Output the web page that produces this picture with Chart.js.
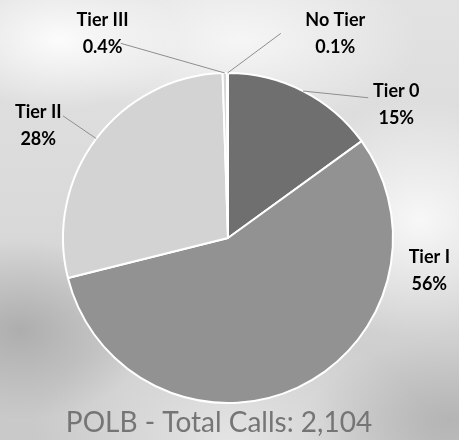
<!DOCTYPE html>
<html>
<head>
<meta charset="utf-8">
<script src="https://cdn.jsdelivr.net/npm/chart.js@4.4.1/dist/chart.umd.min.js"></script>
<style>
  html, body { margin: 0; padding: 0; }
  #wrap {
    width: 459px; height: 440px; position: relative; overflow: hidden;
    background:
      radial-gradient(ellipse 120px 70px at 60px 40px, rgba(255,255,255,0.9), rgba(255,255,255,0) 100%),
      radial-gradient(ellipse 180px 90px at 240px 40px, rgba(255,255,255,0.7), rgba(255,255,255,0) 100%),
      radial-gradient(ellipse 140px 120px at 420px 220px, rgba(255,255,255,0.8), rgba(255,255,255,0) 100%),
      radial-gradient(ellipse 130px 90px at 20px 330px, rgba(150,150,150,0.6), rgba(150,150,150,0) 100%),
      radial-gradient(ellipse 140px 80px at 450px 420px, rgba(160,160,160,0.5), rgba(160,160,160,0) 100%),
      radial-gradient(ellipse 200px 120px at 230px 440px, rgba(240,240,240,0.7), rgba(240,240,240,0) 100%),
      linear-gradient(180deg, #e2e2e2 0%, #d9d9d9 50%, #c8c8c8 100%);
  }
  canvas { position: absolute; left: 0; top: 0; }
</style>
</head>
<body>
<div id="wrap"><canvas id="myChart" width="459" height="440"></canvas></div>
<script>
document.addEventListener('DOMContentLoaded', function(){

    const ctx = document.getElementById('myChart');

    // Data (call counts, total 2,104)
    const tier_labels = ['Tier 0', 'Tier I', 'Tier II', 'Tier III', 'No Tier'];
    const call_counts = [316, 1180, 597, 9, 2];
    const slice_colors = ['#6f6f6f', '#929292', '#d3d3d3', '#d6d6d6', '#d0d0d0'];
    const chart_title = 'POLB - Total Calls: 2,104';

    // Where each label sits, in units of the pie radius from its centre,
    // and where its leader line starts (null = no line)
    const label_spots = [[1.02, -0.81], [1.22, 0.2], [-1.15, -0.68], [-0.76, -1.24], [0.65, -1.24]];
    const leader_from = [[0.85, -0.85], null, [-1.0, -0.74], [-0.65, -1.18], [0.32, -1.24]];

    const total = call_counts.reduce((a, b) => a + b, 0);

    function pctText(v) {
        let p = v / total * 100;
        return p < 1 ? p.toFixed(1) + '%' : Math.round(p) + '%';
    }

    const labelPlugin = {
        id: 'pieLabels',
        afterDraw(chart) {
            const c = chart.ctx;
            const arcs = chart.getDatasetMeta(0).data;
            c.save();
            arcs.forEach((arc, i) => {
                const r = arc.outerRadius;
                const cx = arc.x, cy = arc.y;
                const mid = (arc.startAngle + arc.endAngle) / 2;
                const lx = cx + label_spots[i][0] * r;
                const ly = cy + label_spots[i][1] * r;
                if (leader_from[i]) {
                    c.strokeStyle = '#8e8e8e';
                    c.lineWidth = 1;
                    c.beginPath();
                    c.moveTo(cx + leader_from[i][0] * r, cy + leader_from[i][1] * r);
                    c.lineTo(cx + Math.cos(mid) * r, cy + Math.sin(mid) * r);
                    c.stroke();
                }
                c.fillStyle = '#000';
                c.font = 'bold 18px Lato, "Open Sans", sans-serif';
                c.textAlign = 'center';
                c.textBaseline = 'middle';
                c.fillText(tier_labels[i], lx, ly - 13.5);
                c.fillText(pctText(call_counts[i]), lx, ly + 13.5);
            });
            c.fillStyle = '#757575';
            c.font = '28px Lato, "Open Sans", sans-serif';
            c.textAlign = 'center';
            c.textBaseline = 'alphabetic';
            c.fillText(chart_title, 219, 432);
            c.restore();
        }
    };

    new Chart(ctx, {
        type: 'pie',
        data: {
            labels: tier_labels,
            datasets: [{
                label: 'calls',
                data: call_counts,
                backgroundColor: slice_colors,
                borderColor: '#ffffff',
                borderWidth: 2
            }]
        },
        options: {
            responsive: false,
            animation: false,
            layout: { padding: { top: 72, bottom: 36, left: 62, right: 65 } },
            plugins: {
                legend: { display: false },
                tooltip: { enabled: false }
            }
        },
        plugins: [labelPlugin]
    });

});
</script>
</body>
</html>
